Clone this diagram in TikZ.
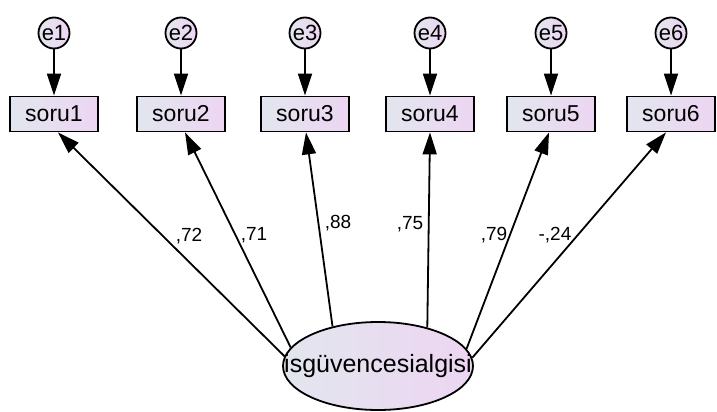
\documentclass[tikz,border=0pt]{standalone}
\usepackage{fontspec}
\setmainfont{Liberation Sans}
\usetikzlibrary{arrows.meta,shapes.geometric}
\definecolor{gradL}{RGB}{226,230,238}
\definecolor{gradR}{RGB}{237,213,242}
\tikzset{
  obsbox/.style={draw=black,line width=1.8pt,left color=gradL,right color=gradR,
    minimum width=88pt,minimum height=35pt,inner sep=0pt,font=\fontsize{23}{25}\selectfont},
  errc/.style={circle,draw=black,line width=1.8pt,left color=gradL,right color=gradR,
    minimum size=31pt,inner sep=0pt,font=\fontsize{22}{24}\selectfont},
  latent/.style={ellipse,draw=black,line width=1.8pt,left color=gradL,right color=gradR,
    minimum width=190pt,minimum height=88pt,inner sep=0pt},
  conn/.style={line width=1.8pt,-{Triangle[length=22pt,width=14pt]}},
  coef/.style={font=\fontsize{19}{21}\selectfont,inner sep=0pt}
}
\begin{document}
\begin{tikzpicture}[x=1pt,y=-1pt]
\useasboundingbox (0,0) rectangle (717,412);
\foreach \i/\x in {1/54,2/181,3/305,4/430,5/551,6/671}{
  \node[obsbox] (s\i) at (\x,114) {soru\i};
  \node[errc] (e\i) at (\x,33) {e\i};
  \draw[conn] (e\i) -- (s\i);
}
\node[latent,label={[font=\fontsize{25}{27}\selectfont,inner sep=0pt]center:isgüvencesialgisi}] (lat) at (378,366) {};
\draw[conn] (lat.174) -- ([xshift=4pt]s1.south);
\draw[conn] (lat.168) -- ([xshift=4pt]s2.south);
\draw[conn] (lat.139) -- ([xshift=1pt]s3.south);
\draw[conn] (lat.38) -- ([xshift=0pt]s4.south);
\draw[conn] (lat.11) -- ([xshift=-2pt]s5.south);
\draw[conn] (lat.5) -- ([xshift=-5pt]s6.south);
\node[coef] (c1) at (189,236) {,72};
\node[coef] (c2) at (254,235) {,71};
\node[coef] (c3) at (338,223) {,88};
\node[coef] (c4) at (410,224) {,75};
\node[coef] (c5) at (494,235) {,79};
\node[coef] (c6) at (555,235) {-,24};
\end{tikzpicture}
\end{document}
